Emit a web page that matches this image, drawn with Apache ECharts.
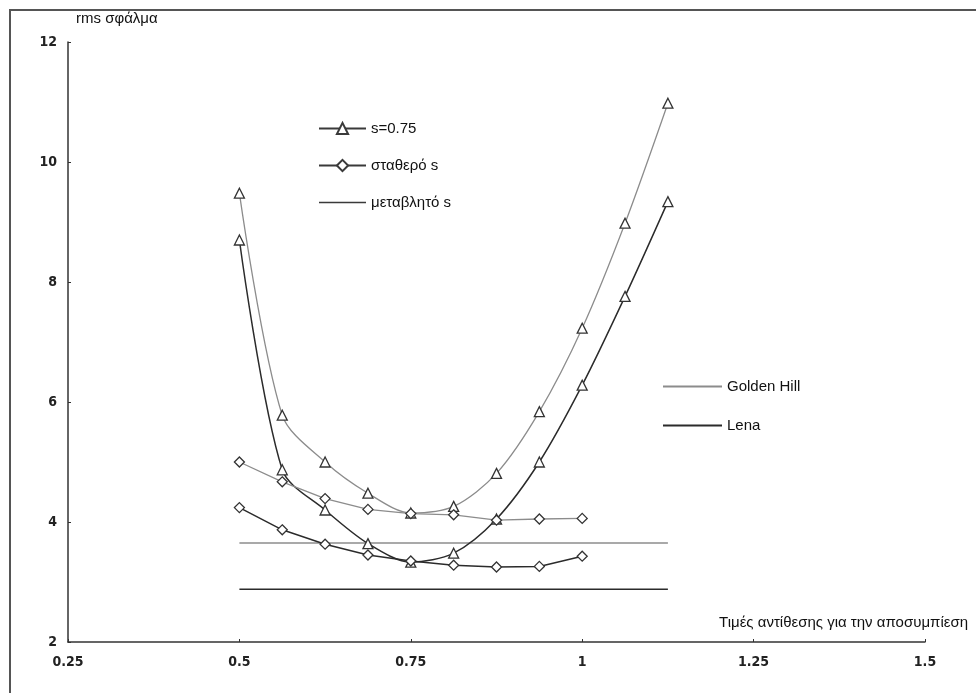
<!DOCTYPE html>
<html>
<head>
<meta charset="utf-8">
<script src="https://cdn.jsdelivr.net/npm/echarts@6/dist/echarts.min.js"></script>
<style>
html,body{margin:0;padding:0;background:#fff;}
#chart{width:980px;height:693px;}
</style>
</head>
<body>
<div id="chart"></div>
<script>
// ---- data ----
const xValues = [0.5, 0.5625, 0.625, 0.6875, 0.75, 0.8125, 0.875, 0.9375, 1.0, 1.0625, 1.125];
const goldenHillFixed075 = [9.48, 5.78, 5.0, 4.48, 4.15, 4.26, 4.81, 5.84, 7.23, 8.98, 10.98];
const lenaFixed075 = [8.7, 4.87, 4.2, 3.64, 3.33, 3.48, 4.05, 5.0, 6.28, 7.76, 9.34];
const xConstS = [0.5, 0.5625, 0.625, 0.6875, 0.75, 0.8125, 0.875, 0.9375, 1.0];
const goldenHillConstS = [5.0, 4.67, 4.39, 4.21, 4.14, 4.12, 4.03, 4.05, 4.06];
const lenaConstS = [4.24, 3.87, 3.63, 3.45, 3.35, 3.28, 3.25, 3.26, 3.43];
const xVarS = [0.5, 1.125];
const goldenHillVarS = 3.65;
const lenaVarS = 2.88;
const xTicks = [0.25, 0.5, 0.75, 1, 1.25, 1.5];
const yTicks = [2, 4, 6, 8, 10, 12];
const legendStyle = ['s=0.75', 'σταθερό s', 'μεταβλητό s'];
const legendSet = ['Golden Hill', 'Lena'];
const yAxisTitle = 'rms σφάλμα';
const xAxisTitle = 'Τιμές αντίθεσης για την αποσυμπίεση';

const pair = (xs, ys) => xs.map((x, i) => [x, ys[i]]);
const flat = (xs, v) => xs.map(x => [x, v]);

const GH = '#8c8c8c';
const LN = '#2b2b2b';
const LEG = '#3a3a3a';
const LINE_ICON = 'path://M0,0H100V3H0Z';

const chart = echarts.init(document.getElementById('chart'));
const tickFont = {fontFamily: '"DejaVu Sans Condensed", "Liberation Sans", sans-serif', fontWeight: 'bold', fontSize: 14, color: '#222'};

chart.setOption({
  animation: false,
  backgroundColor: '#fff',
  graphic: [{
    type: 'polyline', silent: true,
    shape: {points: [[10, 693], [10, 10], [976, 10]]},
    style: {stroke: '#555', lineWidth: 2, fill: null}
  }],
  grid: {left: 68, right: 55, top: 42, bottom: 51, containLabel: false},
  legend: [{
    data: [legendStyle[0], legendStyle[1], {name: legendStyle[2], icon: LINE_ICON}],
    orient: 'vertical', left: 318, top: 121, padding: 0,
    itemWidth: 47, itemHeight: 14, itemGap: 22, selectedMode: false,
    textStyle: {fontFamily: 'Liberation Sans', fontSize: 15, color: '#111'}
  }, {
    data: legendSet.map(n => ({name: n, icon: LINE_ICON})),
    orient: 'vertical', left: 663, top: 379, padding: 0,
    itemWidth: 59, itemHeight: 14, itemGap: 24, selectedMode: false,
    textStyle: {fontFamily: 'Liberation Sans', fontSize: 15, color: '#111'}
  }],
  xAxis: {
    type: 'value', min: 0.25, max: 1.5, interval: 0.25,
    name: xAxisTitle, nameLocation: 'end', nameGap: 43,
    nameTextStyle: {fontFamily: 'Liberation Sans', fontSize: 15, color: '#111', align: 'right', verticalAlign: 'bottom', padding: [0, 0, 12, 0]},
    axisLine: {lineStyle: {color: '#333', width: 1.5}},
    axisTick: {inside: true, length: 3, lineStyle: {color: '#333'}},
    axisLabel: Object.assign({margin: 13, formatter: v => String(v)}, tickFont),
    splitLine: {show: false}
  },
  yAxis: {
    type: 'value', min: 2, max: 12, interval: 2,
    name: yAxisTitle, nameLocation: 'end', nameGap: 16,
    nameTextStyle: {fontFamily: 'Liberation Sans', fontSize: 15, color: '#111', align: 'left', padding: [0, 0, 0, 8]},
    axisLine: {show: true, lineStyle: {color: '#333', width: 1.5}},
    axisTick: {show: true, inside: true, length: 3, lineStyle: {color: '#333'}},
    axisLabel: Object.assign({margin: 11}, tickFont),
    splitLine: {show: false}
  },
  series: [
    // legend-only entries
    {name: 's=0.75', type: 'line', data: [], symbol: 'triangle', symbolSize: 10,
     lineStyle: {color: LEG, width: 1.5}, itemStyle: {color: '#fff', borderColor: LEG, borderWidth: 1.3}},
    {name: 'σταθερό s', type: 'line', data: [], symbol: 'diamond', symbolSize: 10,
     lineStyle: {color: LEG, width: 1.5}, itemStyle: {color: '#fff', borderColor: LEG, borderWidth: 1.3}},
    {name: 'μεταβλητό s', type: 'line', data: [], symbol: 'none',
     lineStyle: {color: LEG, width: 1.5}, itemStyle: {color: LEG}},
    {name: 'Golden Hill', type: 'line', data: [], symbol: 'none',
     lineStyle: {color: GH, width: 1.5}, itemStyle: {color: GH}},
    {name: 'Lena', type: 'line', data: [], symbol: 'none',
     lineStyle: {color: LN, width: 1.5}, itemStyle: {color: LN}},
    // data series
    {name: 'GH s=0.75', type: 'line', data: pair(xValues, goldenHillFixed075), smooth: 0.3,
     symbol: 'triangle', symbolSize: 10, showAllSymbol: true,
     lineStyle: {color: GH, width: 1.3}, itemStyle: {color: '#fff', borderColor: '#333', borderWidth: 1.3}, z: 3},
    {name: 'Lena s=0.75', type: 'line', data: pair(xValues, lenaFixed075), smooth: 0.3,
     symbol: 'triangle', symbolSize: 10, showAllSymbol: true,
     lineStyle: {color: LN, width: 1.5}, itemStyle: {color: '#fff', borderColor: '#333', borderWidth: 1.3}, z: 3},
    {name: 'GH const s', type: 'line', data: pair(xConstS, goldenHillConstS),
     symbol: 'diamond', symbolSize: 10, showAllSymbol: true,
     lineStyle: {color: GH, width: 1.3}, itemStyle: {color: '#fff', borderColor: '#333', borderWidth: 1.3}, z: 4},
    {name: 'Lena const s', type: 'line', data: pair(xConstS, lenaConstS),
     symbol: 'diamond', symbolSize: 10, showAllSymbol: true,
     lineStyle: {color: LN, width: 1.5}, itemStyle: {color: '#fff', borderColor: '#333', borderWidth: 1.3}, z: 4},
    {name: 'GH var s', type: 'line', data: flat(xVarS, goldenHillVarS), symbol: 'none',
     lineStyle: {color: GH, width: 1.5}, z: 2},
    {name: 'Lena var s', type: 'line', data: flat(xVarS, lenaVarS), symbol: 'none',
     lineStyle: {color: LN, width: 1.5}, z: 2}
  ]
});
</script>
</body>
</html>
